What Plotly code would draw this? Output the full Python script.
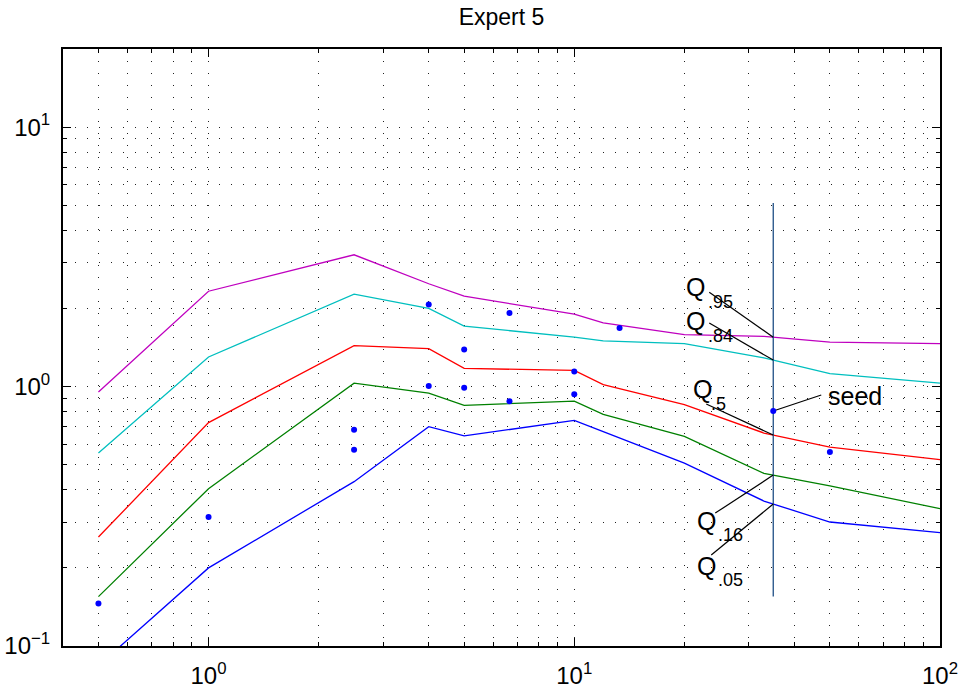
import numpy as np
import plotly.graph_objects as go

# Abscissae of the quantile curves
x_q = [0.5, 1, 2.5, 4, 5, 10, 12, 20, 33, 50, 100]

# Quantile curves of the expert's assessments
q95 = [0.952, 2.33, 3.22, 2.49, 2.23, 1.90, 1.76, 1.585, 1.56, 1.484, 1.463]
q84 = [0.554, 1.30, 2.27, 2.00, 1.71, 1.55, 1.50, 1.463, 1.29, 1.121, 1.031]
q50 = [0.263, 0.726, 1.437, 1.40, 1.175, 1.154, 1.017, 0.852, 0.662, 0.584, 0.523]
q16 = [0.155, 0.404, 1.031, 0.944, 0.846, 0.879, 0.781, 0.643, 0.463, 0.414, 0.3385]
q05 = [0.084, 0.20, 0.43, 0.70, 0.645, 0.741, 0.67, 0.507, 0.362, 0.3005, 0.2735]

# Realizations (observed values)
obs_x = [0.5, 1, 2.5, 2.5, 4, 4, 5, 5, 6.65, 6.65, 10, 10, 13.3, 35, 50]
obs_y = [0.1457, 0.314, 0.682, 0.571, 2.07, 1.004, 1.388, 0.99, 1.92, 0.877,
         1.144, 0.933, 1.68, 0.805, 0.559]

# Seed variable marker
seed_x = 35
seed_y = 0.805
seed_span = [0.155, 5.1]

x_range = [0.4, 100]
y_range = [0.1, 20]
x_ticks = [1, 10, 100]
x_ticktext = ["10<sup>0</sup>", "10<sup>1</sup>", "10<sup>2</sup>"]
y_ticks = [0.1, 1, 10]
y_ticktext = ["10<sup>\u22121</sup>", "10<sup>0</sup>", "10<sup>1</sup>"]
x_minor = [0.4, 0.5, 0.6, 0.7, 0.8, 0.9, 2, 3, 4, 5, 6, 7, 8, 9,
           20, 30, 40, 50, 60, 70, 80, 90]
y_minor = [0.2, 0.3, 0.4, 0.5, 0.6, 0.7, 0.8, 0.9, 2, 3, 4, 5, 6, 7, 8, 9]

FONT = "Liberation Sans, Arial, Helvetica, sans-serif"
W, H = 964, 691
M = dict(l=63, r=24, t=49, b=45)

# pixels per decade along each axis, used to place leader-line tails
lx0, lx1 = np.log10(x_range)
ly0, ly1 = np.log10(y_range)
px_x = (W - M["l"] - M["r"]) / (lx1 - lx0)
px_y = (H - M["t"] - M["b"]) / (ly1 - ly0)

curves = [
    (q95, "#BF00BF", ".95"),
    (q84, "#00BFBF", ".84"),
    (q50, "#FF0000", ".5"),
    (q16, "#008000", ".16"),
    (q05, "#0000FF", ".05"),
]

fig = go.Figure()
for vals, col, name in curves:
    fig.add_trace(go.Scatter(x=x_q, y=vals, mode="lines",
                             line=dict(color=col, width=1.3),
                             name="Q" + name, hoverinfo="x+y"))

fig.add_trace(go.Scatter(x=[seed_x, seed_x], y=seed_span, mode="lines",
                         line=dict(color="#1f4f85", width=1.3), name="seed line"))


def q_at(vals, x):
    return 10 ** np.interp(np.log10(x), np.log10(x_q), np.log10(vals))


def leader(x, y, dx, dy):
    """Black leader line from (x, y) to a point offset by (dx, dy) pixels."""
    lx, ly = np.log10(x), np.log10(y)
    tx = 10 ** (lx + dx / px_x)
    ty = 10 ** (ly - dy / px_y)
    fig.add_trace(go.Scatter(x=[x, tx], y=[y, ty], mode="lines",
                             line=dict(color="black", width=1.2),
                             hoverinfo="skip"))


# Labels: (values, tail offset, Q offset, subscript offset, subscript)
labels = [
    (q95, (-64, -45), (-78, -50), (-53, -35), ".95"),
    (q84, (-64, -37), (-78, -39), (-53, -24), ".84"),
    (q50, (-67, -31), (-71, -46), (-55, -31), ".5"),
    (q16, (-58, 38), (-67, 46), (-43, 60), ".16"),
    (q05, (-62, 51), (-67, 62), (-43, 76), ".05"),
]
lx = np.log10(seed_x)
for vals, tail, qoff, soff, sub in labels:
    qy = q_at(vals, seed_x)
    leader(seed_x, qy, *tail)
    ly = np.log10(qy)
    fig.add_annotation(x=lx, y=ly, text="Q", showarrow=False,
                       xshift=qoff[0], yshift=-qoff[1],
                       font=dict(family=FONT, size=25, color="black"))
    fig.add_annotation(x=lx, y=ly, text=sub, showarrow=False,
                       xshift=soff[0], yshift=-soff[1],
                       font=dict(family=FONT, size=18, color="black"))

leader(seed_x, seed_y, 48, -16)
fig.add_annotation(x=lx, y=np.log10(seed_y), text="seed", showarrow=False,
                   xshift=82, yshift=15,
                   font=dict(family=FONT, size=25, color="black"))

fig.add_trace(go.Scatter(x=obs_x, y=obs_y, mode="markers",
                         marker=dict(color="#0000FF", size=6), name="realizations"))

grid = dict(showgrid=True, gridcolor="#222222", gridwidth=1, griddash="1px,11px")

common = dict(
    type="log", ticks="inside", ticklen=8, tickwidth=1, tickcolor="black",
    showline=True, linecolor="black", linewidth=2, mirror="allticks",
    zeroline=False, automargin=False,
    tickfont=dict(family=FONT, size=24, color="black"),
    **grid,
)

fig.update_xaxes(range=[lx0, lx1], tickmode="array", tickvals=x_ticks,
                 ticktext=x_ticktext, ticklabelstandoff=7,
                 minor=dict(tickmode="array", tickvals=x_minor, ticks="inside",
                            ticklen=4, tickwidth=1, tickcolor="black", **grid),
                 **common)
fig.update_yaxes(range=[ly0, ly1], tickmode="array", tickvals=y_ticks,
                 ticktext=y_ticktext, ticklabelstandoff=6,
                 minor=dict(tickmode="array", tickvals=y_minor, ticks="inside",
                            ticklen=4, tickwidth=1, tickcolor="black", **grid),
                 **common)

fig.update_layout(
    width=W, height=H,
    margin=M,
    paper_bgcolor="white", plot_bgcolor="white",
    showlegend=False,
    title=dict(text="Expert 5", x=0.5, xref="paper", y=1 - 17 / H,
               yref="container", yanchor="middle", xanchor="center",
               automargin=False,
               font=dict(family=FONT, size=23, color="black")),
)

fig.write_html("out.html")
